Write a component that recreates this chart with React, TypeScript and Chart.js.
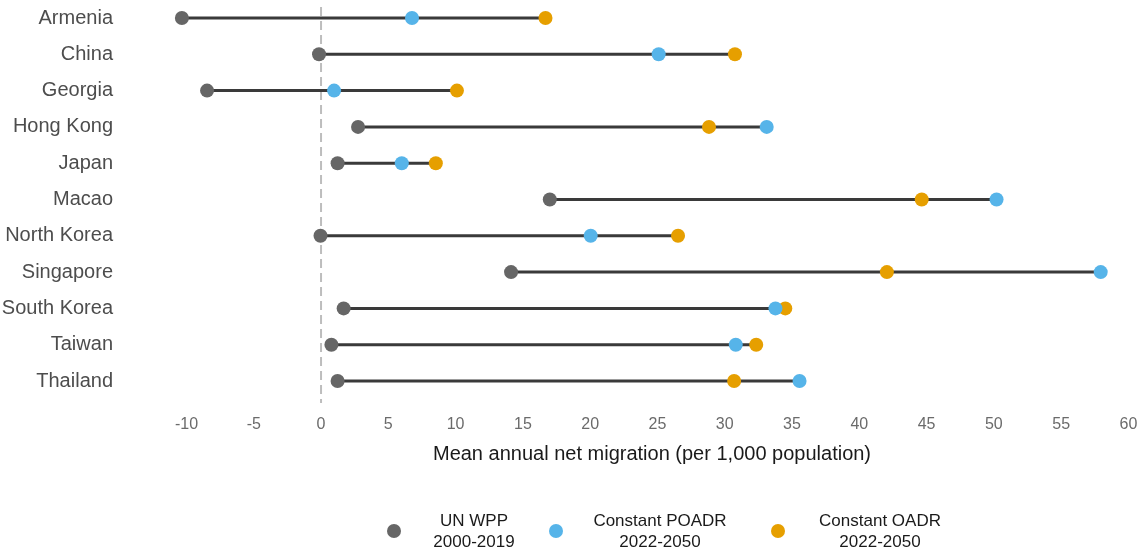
import React, { useEffect, useRef } from 'react';
import { Chart, registerables } from 'chart.js';

Chart.register(...registerables);

const categories = ['Armenia', 'China', 'Georgia', 'Hong Kong', 'Japan', 'Macao', 'North Korea', 'Singapore', 'South Korea', 'Taiwan', 'Thailand'];
const unWpp = [-10.34, -0.15, -8.47, 2.75, 1.23, 17.0, -0.04, 14.12, 1.68, 0.77, 1.23];
const constantPoadr = [6.76, 25.09, 0.97, 33.12, 6.0, 50.2, 20.04, 57.94, 33.77, 30.82, 35.56];
const constantOadr = [16.68, 30.76, 10.1, 28.83, 8.53, 44.64, 26.53, 42.05, 34.5, 32.34, 30.7];
const xTickValues = [-10, -5, 0, 5, 10, 15, 20, 25, 30, 35, 40, 45, 50, 55, 60];
const xTitle = 'Mean annual net migration (per 1,000 population)';
const seriesNames = [
  ['UN WPP', '2000-2019'],
  ['Constant POADR', '2022-2050'],
  ['Constant OADR', '2022-2050'],
];
const seriesColors = ['#666666', '#56B4E9', '#E69F00'];

const FONT = '"Liberation Sans", Arial, sans-serif';

const legendPlugin = {
  id: 'customLegend',
  afterDraw(chart: any) {
    const ctx = chart.ctx;
    const dotX = [394, 556, 778];
    const textX = [474, 660, 880];
    const dotY = 531;
    ctx.save();
    seriesNames.forEach((lines, i) => {
      ctx.beginPath();
      ctx.fillStyle = seriesColors[i];
      ctx.arc(dotX[i], dotY, 7, 0, Math.PI * 2);
      ctx.fill();
      ctx.fillStyle = '#1a1a1a';
      ctx.font = `17px ${FONT}`;
      ctx.textAlign = 'center';
      ctx.textBaseline = 'middle';
      ctx.fillText(lines[0], textX[i], 521);
      ctx.fillText(lines[1], textX[i], 542);
    });
    ctx.restore();
  },
};

export default function App() {
  const ref = useRef<HTMLCanvasElement | null>(null);

  useEffect(() => {
    if (!ref.current) return;
    const yMin = -0.303;
    const yMax = 10.606;
    const segments = categories.map((c, i) => {
      const vals = [unWpp[i], constantPoadr[i], constantOadr[i]];
      return {
        label: 'seg-' + c,
        data: [
          { x: Math.min(...vals), y: i },
          { x: Math.max(...vals), y: i },
        ],
        showLine: true,
        borderColor: '#3a3a3a',
        borderWidth: 3,
        pointRadius: 0,
        order: 3,
      };
    });
    const pts = (arr: number[]) => arr.map((v, i) => ({ x: v, y: i }));
    const chart = new Chart(ref.current, {
      type: 'scatter',
      data: {
        datasets: [
          {
            label: 'zero',
            data: [
              { x: 0, y: yMin },
              { x: 0, y: yMax },
            ],
            showLine: true,
            borderColor: '#bdbdbd',
            borderWidth: 2,
            borderDash: [9, 5],
            pointRadius: 0,
            order: 4,
            clip: false,
          } as any,
          ...segments,
          {
            label: 'UN WPP 2000-2019',
            data: pts(unWpp),
            backgroundColor: seriesColors[0],
            borderWidth: 0,
            pointRadius: 7,
            order: 2,
          },
          {
            label: 'Constant OADR 2022-2050',
            data: pts(constantOadr),
            backgroundColor: seriesColors[2],
            borderWidth: 0,
            pointRadius: 7,
            order: 1,
          },
          {
            label: 'Constant POADR 2022-2050',
            data: pts(constantPoadr),
            backgroundColor: seriesColors[1],
            borderWidth: 0,
            pointRadius: 7,
            order: 0,
          },
        ],
      },
      options: {
        animation: false,
        responsive: false,
        events: [],
        layout: { padding: { top: 3, left: 0, right: 0, bottom: 0 } },
        plugins: {
          legend: { display: false },
          tooltip: { enabled: false },
        },
        scales: {
          x: {
            type: 'linear',
            min: -11.15,
            max: 60.34,
            grid: { display: false, drawTicks: false },
            border: { display: false },
            afterBuildTicks: (s: any) => {
              s.ticks = xTickValues.map((v) => ({ value: v }));
            },
            afterFit: (s: any) => {
              s.height = 149;
              s.paddingLeft = 0;
              s.paddingRight = 0;
            },
            ticks: {
              autoSkip: false,
              maxRotation: 0,
              padding: 12,
              color: '#6b6b6b',
              font: { family: FONT, size: 16 },
              callback: (v: any) => String(v),
            },
            title: {
              display: true,
              text: xTitle,
              color: '#1a1a1a',
              font: { family: FONT, size: 20 },
              padding: { top: 0, bottom: 86 },
            },
          },
          y: {
            type: 'linear',
            reverse: true,
            min: yMin,
            max: yMax,
            grid: { display: false, drawTicks: false },
            border: { display: false },
            afterBuildTicks: (s: any) => {
              s.ticks = categories.map((_, i) => ({ value: i }));
            },
            afterFit: (s: any) => {
              s.width = 171;
              s.paddingTop = 0;
              s.paddingBottom = 0;
            },
            ticks: {
              autoSkip: false,
              padding: 58,
              color: '#4d4d4d',
              font: { family: FONT, size: 20 },
              callback: (v: any) => categories[v as number] ?? '',
            },
          },
        },
      } as any,
      plugins: [legendPlugin],
    });
    return () => chart.destroy();
  }, []);

  return (
    <div style={{ position: 'absolute', left: 0, top: 0, width: 1140, height: 552 }}>
      <canvas ref={ref} width={1140} height={552} style={{ width: 1140, height: 552, display: 'block' }} />
    </div>
  );
}
